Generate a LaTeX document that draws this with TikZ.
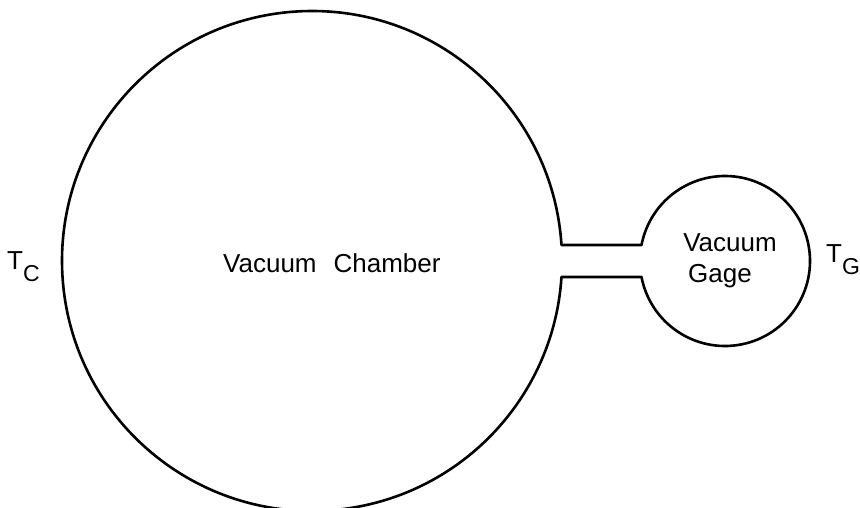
\documentclass[tikz,border=0pt]{standalone}
\usepackage{fontspec}
\setmainfont{Liberation Sans}
\usetikzlibrary{calc}
\begin{document}
\begin{tikzpicture}[x=1pt,y=1pt,
  wall/.style={line width=2.6pt,line join=round},
  lbl/.style={inner sep=0pt,font=\fontsize{26}{30}\selectfont}]
\useasboundingbox (0,0) rectangle (860,507);
\coordinate (cc) at (312,246);
\coordinate (gc) at (725,246);
\draw[wall] (cc) ++(3.67:250) coordinate (ctop)
  arc[start angle=3.67,end angle=356.33,radius=250] coordinate (cbot)
  -- ($(gc)+(190.85:85)$) coordinate (gbot)
  arc[start angle=190.85,end angle=529.15,radius=85] coordinate (gtop)
  -- cycle;
\node[lbl,anchor=base west] (vc) at (223,234) {Vacuum\hspace{17pt}Chamber};
\node[lbl,anchor=base] (vg1) at (730,255) {Vacuum};
\node[lbl,anchor=base] (vg2) at (720,225) {Gage};
\node[lbl,anchor=base west] (tc) at (7,237) {T\raisebox{-12pt}{\fontsize{23}{23}\selectfont C}};
\node[lbl,anchor=base west] (tg) at (826,244) {T\raisebox{-12pt}{\fontsize{23}{23}\selectfont G}};
\end{tikzpicture}
\end{document}
